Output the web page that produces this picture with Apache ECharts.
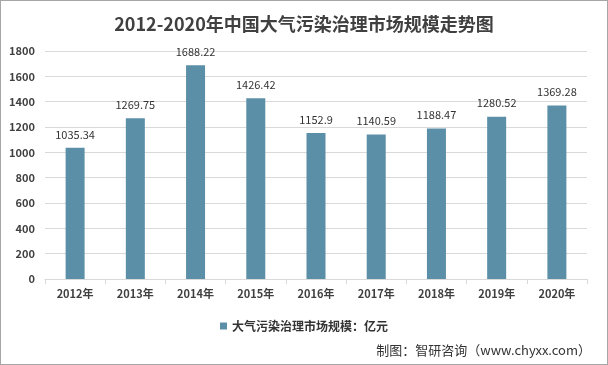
<!DOCTYPE html>
<html><head><meta charset="utf-8">
<script src="https://cdn.jsdelivr.net/npm/echarts@6/dist/echarts.min.js"></script>
<style>html,body{margin:0;padding:0;background:#fff}#c{width:608px;height:365px;box-sizing:border-box;border:1px solid #a6a6a6}</style>
</head><body><div id="c"></div>
<script>
const categories = ['2012年','2013年','2014年','2015年','2016年','2017年','2018年','2019年','2020年'];
const values = [1035.34,1269.75,1688.22,1426.42,1152.9,1140.59,1188.47,1280.52,1369.28];
const labels = ['1035.34','1269.75','1688.22','1426.42','1152.9','1140.59','1188.47','1280.52','1369.28'];
const seriesName = '大气污染治理市场规模：亿元';
const chart = echarts.init(document.getElementById('c'));
const font = '"Noto Sans CJK SC","Noto Sans",sans-serif';
chart.setOption({
  animation:false,
  title:{text:'2012-2020年中国大气污染治理市场规模走势图',left:'center',top:9,
    textStyle:{fontSize:18,fontWeight:'bold',color:'#404040',fontFamily:font}},
  grid:{left:44,right:20,top:50,bottom:85,outerBoundsMode:'none',containLabel:false},
  legend:{data:[seriesName],left:214,top:314,itemWidth:7,itemHeight:7,itemGap:4,icon:'rect',
    textStyle:{fontSize:12,fontWeight:'bold',color:'#333',fontFamily:font}},
  graphic:[{type:'text',right:16,top:343,style:{text:'制图：智研咨询（www.chyxx.com）',fontSize:13,fill:'#333',fontFamily:'"Noto Sans CJK SC",serif'}}],
  xAxis:{type:'category',data:categories,
    axisLine:{lineStyle:{color:'#d9d9d9'}},
    axisTick:{show:true,lineStyle:{color:'#d9d9d9'}},
    axisLabel:{fontSize:11,fontWeight:'bold',color:'#404040',margin:9,fontFamily:font}},
  yAxis:{type:'value',min:0,max:1800,interval:200,
    axisLine:{show:false},axisTick:{show:false},
    splitLine:{lineStyle:{color:'#d9d9d9'}},
    axisLabel:{fontSize:11,fontWeight:'bold',color:'#404040',margin:10,fontFamily:font,formatter:v=>String(v)}},
  series:[{name:seriesName,type:'bar',data:values,barWidth:19,
    itemStyle:{color:'#5B8FA8'},
    label:{show:true,position:'top',distance:8,fontSize:11,color:'#333',fontFamily:font,
      formatter:p=>labels[p.dataIndex]}}]
});
</script></body></html>
